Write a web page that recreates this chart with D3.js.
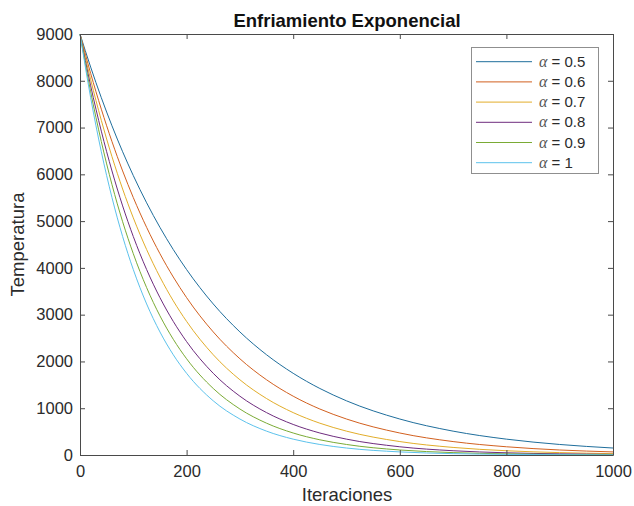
<!DOCTYPE html>
<html>
<head>
<meta charset="utf-8">
<script src="https://cdn.jsdelivr.net/npm/d3@7"></script>
<style>
  html, body { margin: 0; padding: 0; background: #fff; }
  svg { display: block; font-family: "Liberation Sans", Arial, Helvetica, sans-serif; }
</style>
</head>
<body>
<svg id="chart" width="634" height="506"></svg>
<script>
// ---- data ----
const iterations = [0, 20, 40, 60, 80, 100, 125, 150, 175, 200, 250, 300, 350, 400, 450, 500, 600, 700, 800, 900, 1000];
const alphaLabels = ["0.5", "0.6", "0.7", "0.8", "0.9", "1"];
const tempA05 = [9000, 8292, 7638, 7037, 6483, 5973, 5391, 4866, 4392, 3964, 3229, 2631, 2143, 1746, 1422, 1158, 769, 510, 339, 225, 149];
const tempA06 = [9000, 8157, 7393, 6700, 6072, 5503, 4866, 4303, 3805, 3364, 2631, 2057, 1608, 1257, 983, 769, 470, 287, 176, 107, 66];
const tempA07 = [9000, 8024, 7154, 6378, 5686, 5070, 4392, 3805, 3296, 2856, 2143, 1608, 1207, 906, 680, 510, 287, 162, 91, 51, 29];
const tempA08 = [9000, 7893, 6923, 6072, 5325, 4670, 3964, 3364, 2856, 2424, 1746, 1257, 906, 653, 470, 339, 176, 91, 47, 25, 13];
const tempA09 = [9000, 7765, 6700, 5780, 4987, 4303, 3578, 2975, 2474, 2057, 1422, 983, 680, 470, 325, 225, 107, 51, 25, 12, 6];
const tempA10 = [9000, 7638, 6483, 5503, 4670, 3964, 3229, 2631, 2143, 1746, 1158, 769, 510, 339, 225, 149, 66, 29, 13, 6, 3];
const xTicks = [0, 200, 400, 600, 800, 1000];
const yTicks = [0, 1000, 2000, 3000, 4000, 5000, 6000, 7000, 8000, 9000];

const seriesValues = [tempA05, tempA06, tempA07, tempA08, tempA09, tempA10];
const colors = ["#1f6e9c", "#d2601f", "#e2ad2a", "#6e2c7e", "#7aab35", "#5cc2ec"];

// ---- layout ----
const svg = d3.select("#chart");
const L = 80, R = 613, T = 34, B = 455;
const x = d3.scaleLinear().domain([0, 1000]).range([L, R]);
const y = d3.scaleLinear().domain([0, 9000]).range([B, T]);
const axisColor = "#4a4a4a";
const textColor = "#2b2b2b";
const fmt = d3.format("d");

// curves
const line = d3.line()
  .x((d, i) => x(iterations[i]))
  .y(d => y(d))
  .curve(d3.curveMonotoneX);

const plot = svg.append("g");
seriesValues.forEach((vals, i) => {
  plot.append("path")
    .attr("d", line(vals))
    .attr("fill", "none")
    .attr("stroke", colors[i])
    .attr("stroke-width", 1);
});

// axes (MATLAB-style box with inward ticks)
const tickLen = 5;
const axB = svg.append("g").attr("transform", `translate(0,${B})`)
  .call(d3.axisBottom(x).tickValues(xTicks).tickFormat(fmt).tickSizeInner(-tickLen).tickSizeOuter(0).tickPadding(10));
const axT = svg.append("g").attr("transform", `translate(0,${T})`)
  .call(d3.axisTop(x).tickValues(xTicks).tickSizeInner(-tickLen).tickSizeOuter(0).tickFormat(""));
const axL = svg.append("g").attr("transform", `translate(${L},0)`)
  .call(d3.axisLeft(y).tickValues(yTicks).tickFormat(fmt).tickSizeInner(-tickLen).tickSizeOuter(0).tickPadding(7));
const axR = svg.append("g").attr("transform", `translate(${R},0)`)
  .call(d3.axisRight(y).tickValues(yTicks).tickSizeInner(-tickLen).tickSizeOuter(0).tickFormat(""));

[axB, axT, axL, axR].forEach(g => {
  g.select(".domain").attr("stroke", axisColor).attr("stroke-width", 1);
  g.selectAll(".tick line").attr("stroke", axisColor);
  g.selectAll(".tick text")
    .attr("fill", textColor)
    .style("font-family", '"Liberation Sans", Arial, sans-serif')
    .style("font-size", "16.5px");
});
axB.selectAll(".tick text").attr("dy", "0.71em");

// title & axis labels
svg.append("text")
  .attr("x", 347).attr("y", 27)
  .attr("text-anchor", "middle")
  .attr("fill", "#111")
  .style("font-size", "18.5px").style("font-weight", "bold")
  .text("Enfriamiento Exponencial");

svg.append("text")
  .attr("x", 347).attr("y", 501)
  .attr("text-anchor", "middle")
  .attr("fill", textColor)
  .style("font-size", "18.5px")
  .text("Iteraciones");

svg.append("text")
  .attr("transform", `translate(24,${(T + B) / 2}) rotate(-90)`)
  .attr("text-anchor", "middle")
  .attr("fill", textColor)
  .style("font-size", "18.5px")
  .text("Temperatura");

// legend
const lg = svg.append("g");
lg.append("rect")
  .attr("x", 471.5).attr("y", 47.5)
  .attr("width", 127).attr("height", 126)
  .attr("fill", "#fff")
  .attr("stroke", "#8f8f8f").attr("stroke-width", 1);

alphaLabels.forEach((lab, i) => {
  const yy = 61.7 + i * 20.2;
  lg.append("line")
    .attr("x1", 476).attr("x2", 532)
    .attr("y1", yy).attr("y2", yy)
    .attr("stroke", colors[i]).attr("stroke-width", 1);
  const t = lg.append("text")
    .attr("x", 539).attr("y", yy + 5)
    .attr("fill", textColor)
    .style("font-size", "15px");
  t.append("tspan")
    .style("font-family", '"Liberation Serif", "DejaVu Serif", serif')
    .style("font-style", "italic")
    .style("font-size", "16px")
    .attr("fill", "#555")
    .text("α");
  t.append("tspan").text(" = " + lab);
});
</script>
</body>
</html>
